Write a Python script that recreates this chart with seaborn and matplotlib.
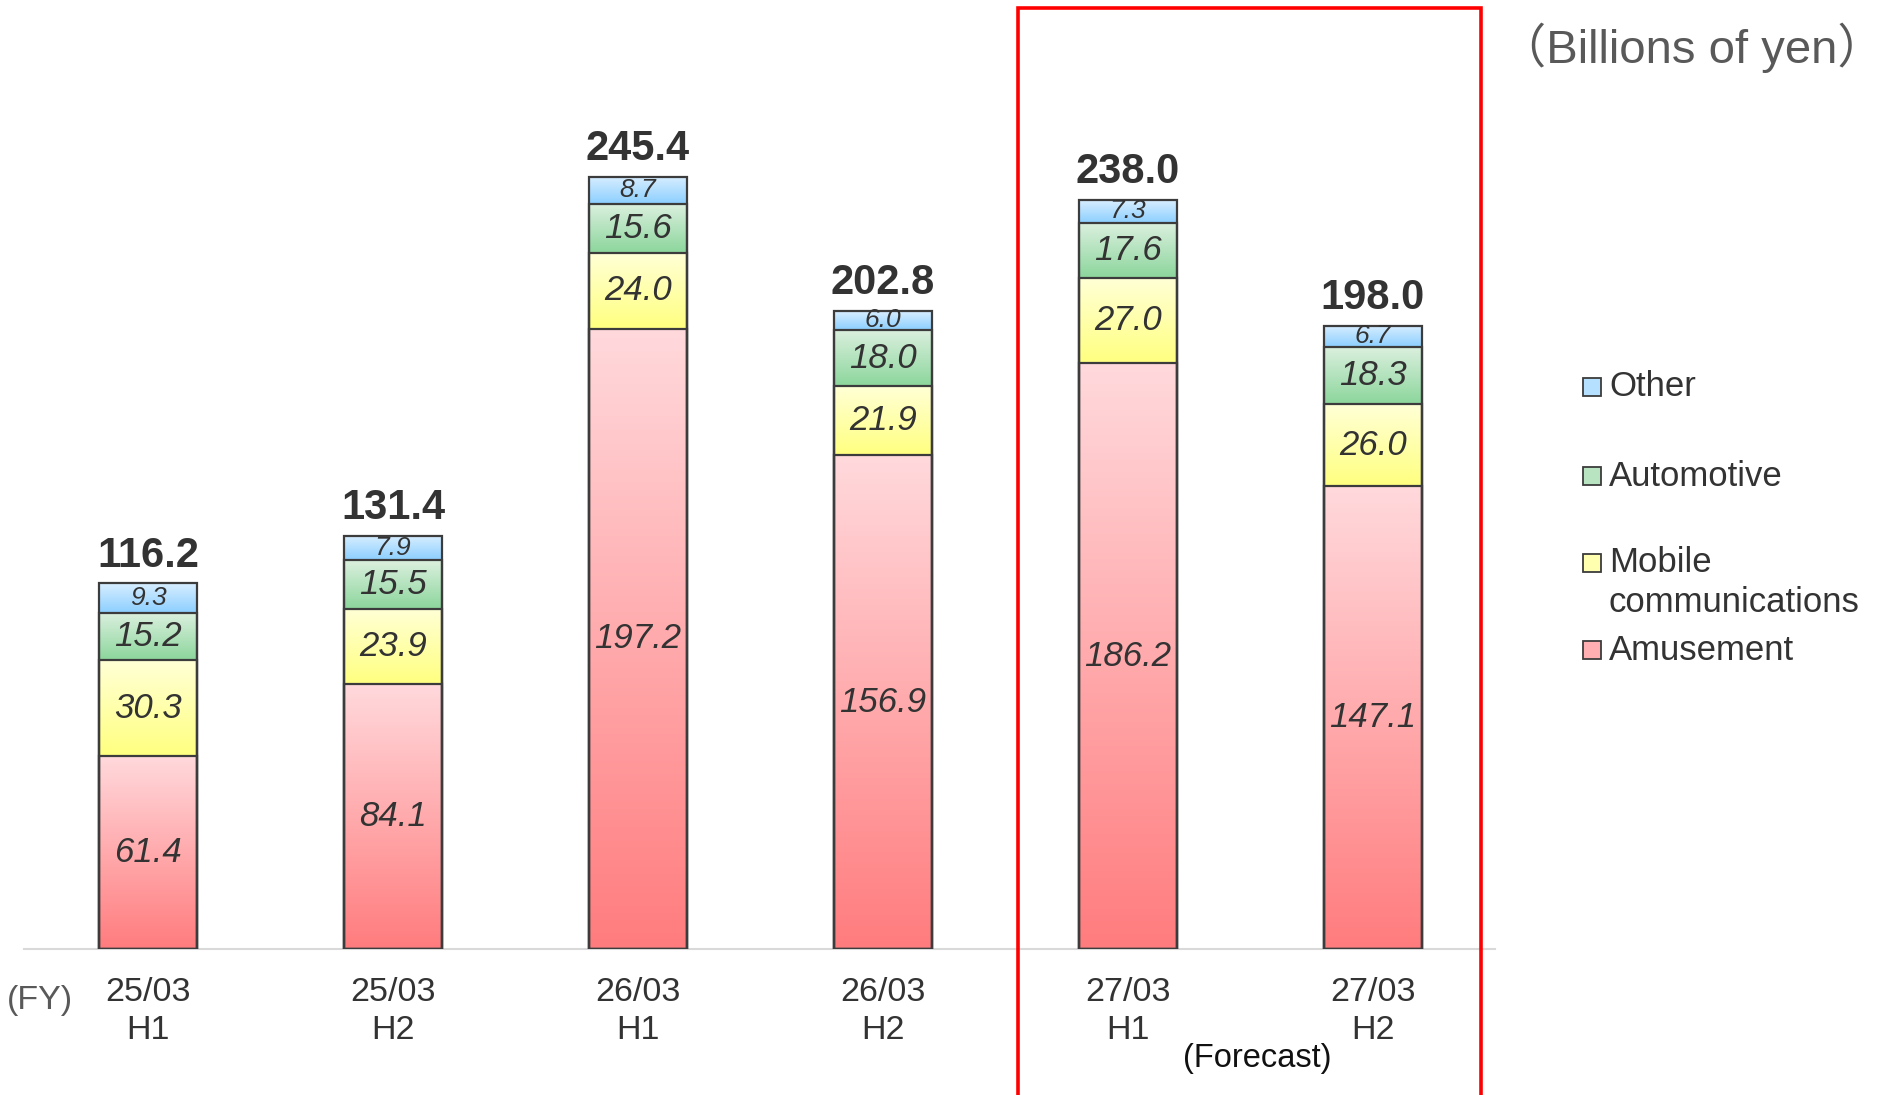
import numpy as np
import pandas as pd
import matplotlib
matplotlib.use("Agg")
import matplotlib.pyplot as plt
from matplotlib.patches import Rectangle
from matplotlib.colors import to_rgb
import seaborn as sns

# data (billions of yen)
periods = ["25/03\nH1", "25/03\nH2", "26/03\nH1", "26/03\nH2", "27/03\nH1", "27/03\nH2"]
amusement = [61.4, 84.1, 197.2, 156.9, 186.2, 147.1]
mobile = [30.3, 23.9, 24.0, 21.9, 27.0, 26.0]
automotive = [15.2, 15.5, 15.6, 18.0, 17.6, 18.3]
other = [9.3, 7.9, 8.7, 6.0, 7.3, 6.7]
totals = [116.2, 131.4, 245.4, 202.8, 238.0, 198.0]

segments = ["Amusement", "Mobile\ncommunications", "Automotive", "Other"]
seg_values = [amusement, mobile, automotive, other]
# gradient colours (top, bottom) for each segment
grad = {
    "Amusement": ("#ffd9dc", "#ff7c7e"),
    "Mobile\ncommunications": ("#ffffd6", "#ffff80"),
    "Automotive": ("#dcf0df", "#8cd69c"),
    "Other": ("#d8eeff", "#8ccfff"),
}

sns.set_theme(style="white")
plt.rcParams["font.family"] = ["Liberation Sans", "Noto Sans CJK JP", "DejaVu Sans"]

W, H = 1883, 1095
fig = plt.figure(figsize=(W / 100, H / 100), dpi=100)
ax = fig.add_axes([24 / W, 1 - 949 / H, (1495 - 24) / W, 949 / H])

df = pd.DataFrame({"period": periods})
cum = np.zeros(len(periods))
lows = []
for name, vals in zip(segments, seg_values):
    lows.append(cum.copy())
    cum = cum + np.array(vals)
    df[name] = cum

# draw cumulative bars, tallest first
layer_patches = {}
for name in reversed(segments):
    n0 = len(ax.patches)
    sns.barplot(data=df, x="period", y=name, order=periods, width=0.4,
                errorbar=None, facecolor="none", edgecolor="#3c3c3c",
                linewidth=1.6, ax=ax, zorder=3)
    layer_patches[name] = ax.patches[n0:]

edge_col = "#3c3c3c"
for k, name in enumerate(segments):
    top_c, bot_c = (np.array(to_rgb(c)) for c in grad[name])
    t = np.linspace(0, 1, 100)[:, None]
    img = (bot_c[None, :] * (1 - t) + top_c[None, :] * t)[:, None, :]
    for i, p in enumerate(layer_patches[name]):
        x0 = p.get_x()
        x1 = x0 + p.get_width()
        y1 = p.get_height()
        y0 = lows[k][i]
        ax.imshow(img, extent=[x0, x1, y0, y1], origin="lower",
                  aspect="auto", zorder=2, interpolation="bilinear")
        val = seg_values[k][i]
        fs = 19 if name == "Other" else 25
        ax.text((x0 + x1) / 2, (y0 + y1) / 2, f"{val:.1f}", ha="center",
                va="center", fontsize=fs, style="italic", color="#333333",
                zorder=4)

for i, p in enumerate(layer_patches["Other"]):
    ax.annotate(f"{totals[i]:.1f}", (p.get_x() + p.get_width() / 2, p.get_height()),
                xytext=(0, 5.5), textcoords="offset points", ha="center",
                va="bottom", fontsize=30, fontweight="bold", color="#333333")

ax.set_xlim(-0.506, 5.498)
ax.set_ylim(0, 301.6)
ax.set_xlabel("")
ax.set_ylabel("")
ax.set_yticks([])
for s in ["top", "left", "right"]:
    ax.spines[s].set_visible(False)
ax.spines["bottom"].set_color("#d9d9d9")
ax.spines["bottom"].set_linewidth(1.5)
ax.tick_params(axis="x", length=0, pad=20, labelsize=24.5, labelcolor="#333333")
for lab in ax.get_xticklabels():
    lab.set_linespacing(1.3)

fig.text(40 / W, 1 - 1000 / H, "(FY)", ha="center", va="center", fontsize=24.5,
         color="#595959")
fig.text(1257 / W, 1 - 1059 / H, "(Forecast)", ha="center", va="center",
         fontsize=23.5, color="#111111")
fig.text(1692 / W, 1 - 48 / H, "（Billions of yen）", ha="center", va="center",
         fontsize=34, color="#595959")

# forecast frame
fig.add_artist(Rectangle((1018 / W, -0.02), (1481 - 1018) / W, 1 - 8 / H + 0.02,
                         transform=fig.transFigure, fill=False,
                         edgecolor="#ff0000", linewidth=2.6))

# legend
legend_rows = [("Other", 387), ("Automotive", 476),
               ("Mobile\ncommunications", 563), ("Amusement", 650)]
for key, y in legend_rows:
    mid = 0.55 * np.array(to_rgb(grad[key][0])) + 0.45 * np.array(to_rgb(grad[key][1]))
    fig.add_artist(Rectangle((1583 / W, 1 - (y + 9) / H), 18 / W, 18 / H,
                             transform=fig.transFigure,
                             facecolor=mid, edgecolor=edge_col, linewidth=1.3))
    fig.text(1609 / W, 1 - y / H, key.split("\n")[0], ha="left", va="center",
             fontsize=25, color="#333333")
fig.text(1609 / W, 1 - 603 / H, "communications", ha="left", va="center",
         fontsize=25, color="#333333")

fig.savefig("out.png", dpi=100)
